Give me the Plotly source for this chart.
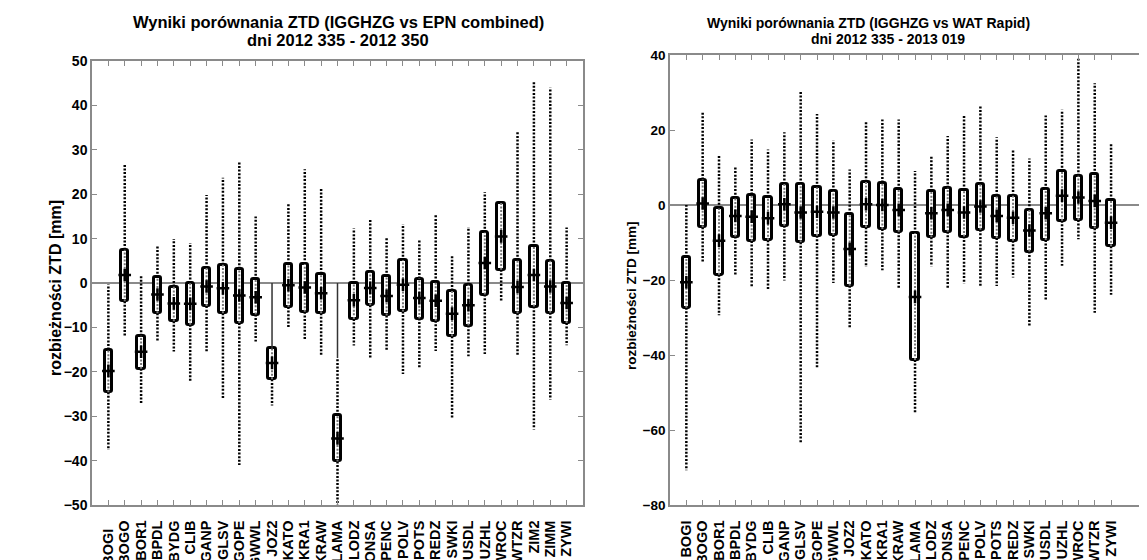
import plotly.graph_objects as go

# ---------------- data: IGGHZG vs EPN combined ----------------
stations_epn = ["BOGI", "BOGO", "BOR1", "BPDL", "BYDG", "CLIB", "GANP", "GLSV", "GOPE", "GWWL",
                "JOZ2", "KATO", "KRA1", "KRAW", "LAMA", "LODZ", "ONSA", "PENC", "POLV", "POTS",
                "REDZ", "SWKI", "USDL", "UZHL", "WROC", "WTZR", "ZIM2", "ZIMM", "ZYWI"]
epn_labels = ["BOGI\u00a0\u00a0"] + stations_epn[1:]
epn_min = [-37.6, -12.0, -27.1, -13.2, -15.4, -22.0, -15.6, -25.9, -41.0, -13.2,
           -27.6, -10.2, -13.0, -16.2, -50.0, -14.1, -16.9, -15.2, -20.5, -19.3,
           -15.3, -30.5, -16.5, -16.0, -4.0, -16.5, -33.0, -26.3, -14.0]
epn_q1 = [-24.6, -4.1, -19.3, -6.8, -8.6, -9.4, -5.2, -6.8, -9.0, -7.1,
          -21.7, -5.4, -6.5, -6.8, -40.2, -8.1, -5.0, -7.3, -6.4, -8.0,
          -8.5, -12.0, -9.6, -2.6, 3.0, -6.8, -5.3, -6.7, -9.0]
epn_med = [-19.8, 1.8, -15.5, -2.6, -4.6, -4.7, -0.8, -1.2, -2.8, -3.2,
           -18.0, -0.5, -1.0, -2.3, -35.0, -3.9, -1.1, -2.9, -0.4, -3.4,
           -4.0, -6.9, -5.0, 4.5, 10.5, -0.9, 1.8, -0.8, -4.5]
epn_q3 = [-15.0, 7.5, -11.9, 1.3, -0.8, 0.0, 3.4, 4.1, 3.2, 0.8,
          -14.7, 4.3, 4.3, 2.1, -29.8, 0.0, 2.4, 1.5, 5.1, 1.0,
          0.2, -1.7, -0.4, 11.4, 18.0, 5.1, 8.3, 5.0, 0.0]
epn_max = [-0.3, 26.7, 1.6, 8.5, 9.9, 9.0, 19.8, 23.7, 27.2, 15.0,
           -14.7, 18.0, 25.6, 21.2, -16.9, 12.3, 14.3, 10.3, 13.3, 9.9,
           15.4, 6.0, 12.6, 20.5, 18.0, 34.0, 45.5, 44.0, 12.5]
# solid connector from 0 down to the value (only where present)
epn_link = [None] * 10 + [-14.7] + [None] * 3 + [-16.9] + [None] * 14

# ---------------- data: IGGHZG vs WAT Rapid ----------------
stations_wat = ["BOGI", "BOGO", "BOR1", "BPDL", "BYDG", "CLIB", "GANP", "GLSV", "GOPE", "GWWL",
                "JOZ2", "KATO", "KRA1", "KRAW", "LAMA", "LODZ", "ONSA", "PENC", "POLV", "POTS",
                "REDZ", "SWKI", "USDL", "UZHL", "WROC", "WTZR", "ZYWI"]
wat_labels = list(stations_wat)
wat_min = [-70.7, -15.3, -29.4, -18.6, -21.9, -22.7, -20.1, -63.3, -43.7, -20.8,
           -33.0, -16.5, -17.4, -22.3, -55.5, -16.3, -22.3, -20.9, -21.6, -21.6,
           -19.3, -32.1, -25.4, -16.2, -9.1, -28.7, -23.9]
wat_q1 = [-27.4, -5.9, -18.6, -8.4, -9.6, -9.4, -5.5, -9.9, -8.2, -8.0,
          -21.5, -5.9, -6.4, -7.1, -41.3, -8.6, -7.1, -8.4, -6.6, -8.8,
          -9.5, -12.4, -9.3, -4.2, -4.0, -6.2, -11.0]
wat_med = [-20.6, 0.4, -9.5, -2.9, -3.1, -3.5, 0.2, -2.0, -1.8, -2.0,
           -11.7, 0.2, 0.0, -1.3, -24.5, -2.2, -1.3, -2.0, -0.4, -2.9,
           -3.4, -6.8, -2.2, 2.5, 2.0, 1.1, -4.7]
wat_q3 = [-13.9, 6.8, -0.9, 1.8, 2.8, 2.1, 5.6, 5.6, 4.7, 3.7,
          -2.4, 6.2, 6.0, 4.2, -7.5, 3.7, 4.6, 4.0, 5.6, 2.5,
          2.5, -1.3, 4.2, 9.0, 7.8, 8.2, 1.3]
wat_max = [0.0, 25.0, 13.3, 10.3, 17.5, 14.8, 19.4, 30.3, 24.3, 17.2,
           9.5, 22.1, 22.8, 22.8, 9.1, 13.3, 18.4, 24.0, 26.5, 18.1,
           14.8, 12.4, 23.9, 25.4, 39.0, 32.5, 16.3]
wat_link = [None] * 27

FONT = "Liberation Sans"
GREY = "#8a8a8a"
# the page body has an 8px margin: size the figure so it fills the window exactly
OFF = 8
FW, FH = 1147 - OFF, 560 - OFF


def xp(px):
    return (px - OFF) / FW


def yp(py):
    return 1 - (py - OFF) / FH


fig = go.Figure()


def add_panel(st, vmin, q1, med, q3, vmax, link, xa, ya):
    fig.add_trace(go.Bar(
        x=st, y=[b - a for a, b in zip(q1, q3)], base=q1, width=0.45,
        marker=dict(color="white", line=dict(color="black", width=3), cornerradius=2),
        xaxis=xa, yaxis=ya, showlegend=False, hoverinfo="skip"))
    ox, oy, ix, iy, lx, ly = [], [], [], [], [], []
    for s, lo, a, b, hi, lk in zip(st, vmin, q1, q3, vmax, link):
        if hi > b:
            ox += [s, s, None]; oy += [b, hi, None]
        if lo < a:
            ox += [s, s, None]; oy += [a, lo, None]
        ix += [s, s, None]; iy += [a, b, None]
        if lk is not None:
            lx += [s, s, None]; ly += [0, lk, None]
    fig.add_trace(go.Scatter(x=ox, y=oy, mode="lines", xaxis=xa, yaxis=ya,
                             line=dict(color="black", width=2.5, dash="2px,1.6px"),
                             showlegend=False, hoverinfo="skip"))
    fig.add_trace(go.Scatter(x=ix, y=iy, mode="lines", xaxis=xa, yaxis=ya,
                             line=dict(color="#777777", width=2, dash="2px,1.6px"),
                             showlegend=False, hoverinfo="skip"))
    if lx:
        fig.add_trace(go.Scatter(x=lx, y=ly, mode="lines", xaxis=xa, yaxis=ya,
                                 line=dict(color="#333333", width=1.5),
                                 showlegend=False, hoverinfo="skip"))
    fig.add_trace(go.Scatter(x=st, y=med, mode="markers", xaxis=xa, yaxis=ya,
                             marker=dict(symbol="cross-thin", size=9,
                                         line=dict(color="black", width=2.5)),
                             showlegend=False, hoverinfo="skip"))


add_panel(stations_epn, epn_min, epn_q1, epn_med, epn_q3, epn_max, epn_link, "x", "y")
add_panel(stations_wat, wat_min, wat_q1, wat_med, wat_q3, wat_max, wat_link, "x2", "y2")

xcommon = dict(type="category", showline=True, linecolor=GREY, linewidth=1.5, mirror="ticks",
               ticks="inside", ticklen=5, tickcolor=GREY, tickwidth=1, tickangle=-90,
               ticklabelstandoff=8, showgrid=False, zeroline=False, automargin=False,
               tickfont=dict(family=FONT, size=14.5, color="black", weight="bold"))
ycommon = dict(showline=True, linecolor=GREY, linewidth=1.5, ticks="inside", ticklen=5,
               tickcolor=GREY, showgrid=False, zeroline=True, zerolinecolor=GREY,
               zerolinewidth=1.5, automargin=False)

fig.update_layout(
    template="none",
    width=FW, height=FH, margin=dict(l=0, r=0, t=0, b=0, autoexpand=False),
    paper_bgcolor="white", plot_bgcolor="white", bargap=0, showlegend=False,
    xaxis=dict(domain=[xp(92), xp(583)], range=[-1, 29], anchor="y",
               categoryorder="array", categoryarray=stations_epn,
               tickmode="array", tickvals=stations_epn, ticktext=epn_labels, **xcommon),
    yaxis=dict(domain=[yp(505), yp(61)], range=[-50, 50], dtick=10, anchor="x",
               mirror="ticks", tickfont=dict(family=FONT, size=14, color="black", weight="bold"),
               **ycommon),
    xaxis2=dict(domain=[xp(670), 1.0], range=[-1, 28.2], anchor="y2",
                categoryorder="array", categoryarray=stations_wat,
                tickmode="array", tickvals=stations_wat, ticktext=wat_labels, **xcommon),
    yaxis2=dict(domain=[yp(505), yp(55)], range=[-80, 40], dtick=20, anchor="x2",
                mirror=False, tickfont=dict(family=FONT, size=13.5, color="black", weight="bold"),
                **ycommon),
)

titles = [
    ("Wyniki porównania ZTD (IGGHZG vs EPN combined)", 338, 22, 16.5),
    ("dni 2012 335 - 2012 350", 338, 40, 16.5),
    ("Wyniki porównania ZTD (IGGHZG vs WAT Rapid)", 868, 23, 14),
    ("dni 2012 335 - 2013 019", 888, 39, 14),
]
for txt, cx, cy, fs in titles:
    fig.add_annotation(text=txt, xref="paper", yref="paper", x=xp(cx), y=yp(cy),
                       xanchor="center", yanchor="middle", showarrow=False,
                       font=dict(family=FONT, size=fs, color="black", weight="bold"))

fig.add_annotation(text="rozbieżności ZTD [mm]", textangle=-90,
                   xref="paper", yref="paper", x=xp(55), y=yp(288), xanchor="center", yanchor="middle",
                   showarrow=False, font=dict(family=FONT, size=16, color="black", weight="bold"))
fig.add_annotation(text="rozbieżności ZTD [mm]", textangle=-90,
                   xref="paper", yref="paper", x=xp(631), y=yp(296), xanchor="center", yanchor="middle",
                   showarrow=False, font=dict(family=FONT, size=13.5, color="black", weight="bold"))

fig.write_html("out.html")
